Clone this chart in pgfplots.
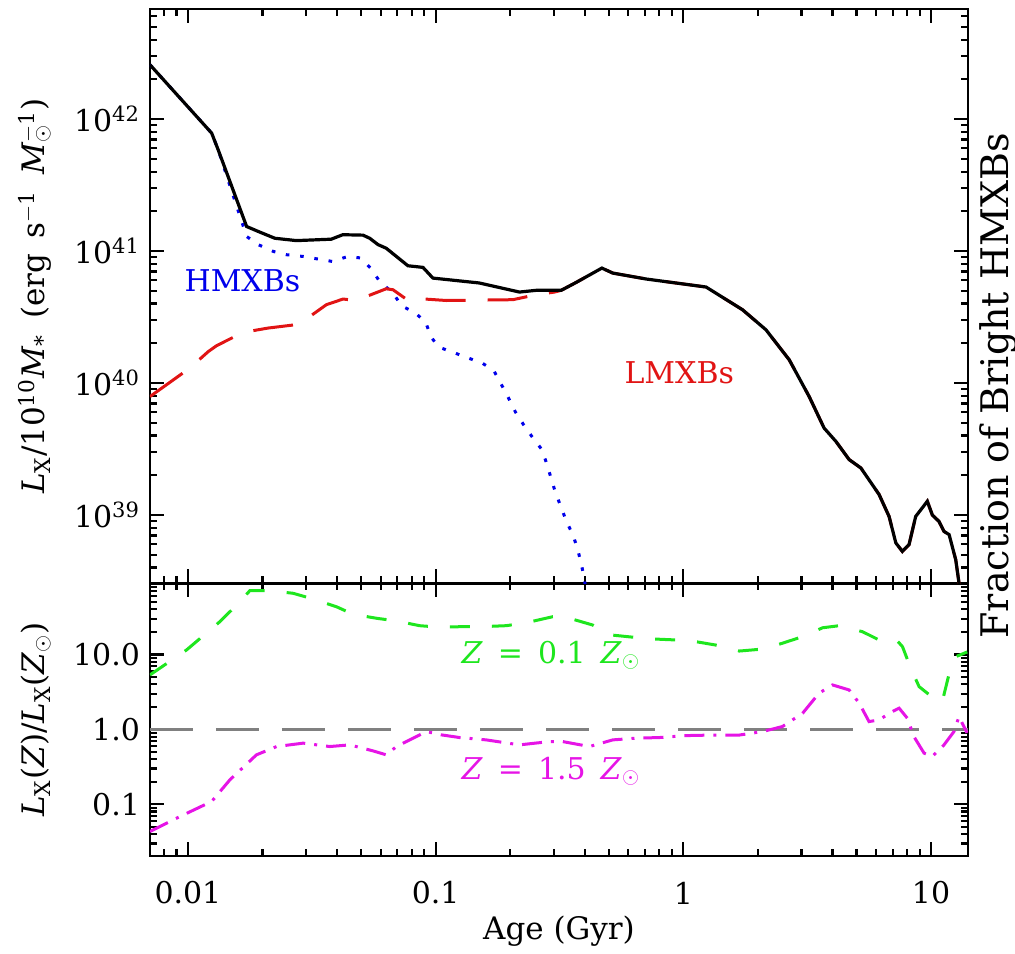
\documentclass[border=0pt]{standalone}
\usepackage{fontspec}
\setmainfont{DejaVu Serif}
\usepackage{pgfplots}
\pgfplotsset{compat=1.18}
\definecolor{cblue}{RGB}{0,0,235}
\definecolor{cred}{RGB}{225,20,20}
\definecolor{cgreen}{RGB}{30,230,30}
\definecolor{cmag}{RGB}{230,20,230}
\definecolor{cgray}{RGB}{128,128,128}
\newcommand{\tlfont}{\fontsize{15}{18}\selectfont}
\newcommand{\lbfont}{\fontsize{15.5}{18}\selectfont}
\newcommand{\anfont}{\fontsize{15}{18}\selectfont}
\newcommand{\rlfont}{\fontsize{19}{22}\selectfont}
\begin{document}
\begin{tikzpicture}
\useasboundingbox (-75pt,-48.65pt) rectangle (432.5pt,427.85pt);
% bottom panel
\begin{axis}[scale only axis, width=409pt, height=136.2pt,
  xmode=log, ymode=log, clip mode=individual,
  xmin=0.00703, xmax=14.1, ymin=0.0206, ymax=89,
  axis line style={line width=1.2pt},
  major tick length=7pt, minor tick length=3.5pt,
  every tick/.style={line width=1.1pt, black},
  xtick={0.01,0.1,1,10},
  minor xtick={0.008,0.009,0.02,0.03,0.04,0.05,0.06,0.07,0.08,0.09,0.2,0.3,0.4,0.5,0.6,0.7,0.8,0.9,2,3,4,5,6,7,8,9},
  xticklabels={0.01,0.1,1,10},
  ytick={0.1,1,10}, yticklabels={0.1,1.0,10.0},
  minor ytick={0.03,0.04,0.05,0.06,0.07,0.08,0.09,0.2,0.3,0.4,0.5,0.6,0.7,0.8,0.9,2,3,4,5,6,7,8,9,20,30,40,50,60,70,80},
  xticklabel style={font=\tlfont, anchor=center, yshift=-18.65pt},
  yticklabel style={font=\tlfont, xshift=-1.5pt},
  xlabel={Age (Gyr)},
  xlabel style={font=\lbfont, at={(rel axis cs:0.5,0)}, anchor=base, yshift=-42pt},
  ylabel={\textit{L}\textsubscript{X}(\textit{Z})/\textit{L}\textsubscript{X}(\textit{Z}\textsubscript{$\odot$})},
  ylabel style={font=\lbfont, at={(rel axis cs:-0.129,0.5)}, anchor=base},
]
\addplot[cgray, line width=1.4pt, dash pattern=on 21.5pt off 11.5pt] coordinates {(0.00703,1) (14.1,1)};
\addplot[cgreen, line width=1.5pt, dash pattern=on 10pt off 11pt] coordinates {
(0.00703,5.33)(0.00988,11.5)(0.01346,27.4)(0.01548,43.3)(0.01779,71.0)(0.02143,71.0)
(0.0266,65.5)(0.0320,55.0)(0.0398,43.3)(0.0464,34.4)(0.0577,30.4)(0.0695,28.0)
(0.0861,24.2)(0.1037,23.1)(0.1288,23.5)(0.155,23.5)(0.1928,24.2)(0.2321,26.5)
(0.2972,31.9)(0.326,31.9)(0.347,30.4)(0.4305,24.7)(0.5105,18.2)(0.625,17.0)
(0.752,16.1)(0.935,15.6)(1.125,14.8)(1.396,13.1)(1.683,11.1)(2.09,11.8)(2.51,14.1)
(3.03,17.3)(3.65,22.7)(4.26,24.2)(5.29,20.1)(6.37,14.8)(6.99,14.1)(7.32,15.1)
(7.67,12.7)(8.28,6.55)(8.95,3.72)(10.45,2.47)(11.1,2.35)(11.8,5.33)(12.6,9.35)(14.0,10.8)};
\addplot[cmag, line width=1.5pt, dash pattern=on 10pt off 4.5pt on 1.5pt off 4.5pt] coordinates {
(0.00703,0.0434)(0.00929,0.0687)(0.01247,0.109)(0.01477,0.212)(0.01891,0.457)
(0.0228,0.590)(0.0292,0.655)(0.0374,0.590)(0.0450,0.621)(0.0558,0.517)(0.0632,0.457)
(0.0695,0.590)(0.0917,0.935)(0.1054,0.845)(0.125,0.778)(0.160,0.724)(0.218,0.621)
(0.288,0.687)(0.326,0.687)(0.418,0.590)(0.519,0.724)(0.644,0.763)(0.80,0.778)
(1.025,0.826)(1.313,0.84)(1.683,0.84)(2.09,0.935)(2.51,1.09)(3.03,1.64)(3.53,3.04)
(4.0,3.92)(4.67,3.36)(5.13,2.23)(5.62,1.27)(6.17,1.34)(6.98,1.73)(7.43,1.92)
(8.02,1.41)(8.53,0.80)(9.37,0.482)(10.12,0.434)(11.28,0.621)(12.38,0.935)(12.97,1.48)(13.97,0.898)};
\node[cgreen, font=\anfont] at (rel axis cs:0.490,0.737) {\textit{Z}\enspace=\enspace0.1\enspace\textit{Z}\textsubscript{$\odot$}};
\node[cmag, font=\anfont] at (rel axis cs:0.490,0.309) {\textit{Z}\enspace=\enspace1.5\enspace\textit{Z}\textsubscript{$\odot$}};
\end{axis}
% top panel
\begin{axis}[scale only axis, width=409pt, height=287pt, at={(0,136.2pt)},
  xmode=log, ymode=log, clip mode=individual,
  xmin=0.00703, xmax=14.1, ymin=3.04e38, ymax=6.8e42,
  axis line style={line width=1.2pt},
  major tick length=7pt, minor tick length=3.5pt,
  every tick/.style={line width=1.1pt, black},
  xtick={0.01,0.1,1,10},
  minor xtick={0.008,0.009,0.02,0.03,0.04,0.05,0.06,0.07,0.08,0.09,0.2,0.3,0.4,0.5,0.6,0.7,0.8,0.9,2,3,4,5,6,7,8,9},
  xticklabels={},
  ytick={1e39,1e40,1e41,1e42},
  yticklabels={10\textsuperscript{39},10\textsuperscript{40},10\textsuperscript{41},10\textsuperscript{42}},
  minor ytick={4e38,5e38,6e38,7e38,8e38,9e38,2e39,3e39,4e39,5e39,6e39,7e39,8e39,9e39,2e40,3e40,4e40,5e40,6e40,7e40,8e40,9e40,2e41,3e41,4e41,5e41,6e41,7e41,8e41,9e41,2e42,3e42,4e42,5e42,6e42},
  yticklabel style={font=\tlfont, xshift=-1.5pt},
  ylabel={\textit{L}\textsubscript{X}/10\textsuperscript{10}\textit{M}\textsubscript{*}\enspace(erg\enspace s\textsuperscript{$-$1}\enspace\textit{M}\rlap{\textsubscript{$\odot$}}\textsuperscript{$-$1})},
  ylabel style={font=\lbfont, at={(rel axis cs:-0.129,0.5)}, anchor=base},
]
\addplot[cblue, line width=1.5pt, line cap=butt, dash pattern=on 1.8pt off 5.4pt] coordinates {
(0.00703,2.58e42)(0.01247,7.83e41)(0.01325,5.85e41)(0.01726,1.29e41)(0.0192,1.12e41)
(0.0221,9.94e40)(0.0250,9.38e40)(0.0292,9.1e40)(0.0335,8.7e40)(0.0383,8.34e40)
(0.0442,9.1e40)(0.0501,8.85e40)(0.0550,7.31e40)(0.0594,5.89e40)(0.0673,4.81e40)
(0.0728,3.85e40)(0.0822,3.43e40)(0.0912,2.90e40)(0.0955,2.25e40)(0.1031,1.87e40)
(0.1175,1.71e40)(0.1350,1.55e40)(0.1537,1.42e40)(0.1714,1.25e40)(0.184,9.8e39)
(0.197,7.7e39)(0.210,6.03e39)(0.2265,4.83e39)(0.2455,3.90e39)(0.2675,3.16e39)
(0.281,2.45e39)(0.293,1.88e39)(0.305,1.47e39)(0.3214,1.14e39)(0.3374,8.95e38)
(0.359,7.0e38)(0.375,5.45e38)(0.388,4.2e38)(0.399,3.24e38)(0.406,2.5e38)};
\addplot[cred, line width=1.5pt, dash pattern=on 20pt off 11pt] coordinates {
(0.00703,7.9e39)(0.01019,1.30e40)(0.01208,1.73e40)(0.01306,1.92e40)(0.0167,2.42e40)
(0.0211,2.61e40)(0.0274,2.77e40)(0.0301,3.06e40)(0.0362,3.92e40)(0.0423,4.33e40)
(0.0479,4.22e40)(0.0526,4.53e40)(0.0632,5.18e40)(0.0673,5.09e40)(0.0785,4.15e40)
(0.0903,4.33e40)(0.1105,4.22e40)(0.205,4.28e40)(0.2547,4.67e40)(0.302,4.89e40)
(0.3214,5.04e40)(0.369,5.78e40)(0.469,7.43e40)(0.519,6.81e40)(0.708,6.14e40)
(1.235,5.34e40)(1.734,3.59e40)(2.156,2.53e40)(2.676,1.50e40)(3.22,7.91e39)
(3.70,4.56e39)(4.13,3.61e39)(4.67,2.63e39)(5.21,2.27e39)(6.17,1.43e39)(6.77,9.75e38)
(7.21,6.14e38)(7.66,5.30e38)(8.15,5.96e38)(8.67,9.75e38)(9.66,1.27e39)(10.12,1.0e39)
(10.77,8.93e38)(11.28,7.51e38)(11.83,7.1e38)(12.58,4.58e38)(12.97,3.05e38)(13.2,2.3e38)};
\addplot[black, line width=1.6pt] coordinates {
(0.00703,2.58e42)(0.01247,7.83e41)(0.01325,5.85e41)(0.01726,1.535e41)(0.01919,1.41e41)
(0.02244,1.25e41)(0.02742,1.20e41)(0.0379,1.23e41)(0.0422,1.33e41)(0.0509,1.32e41)
(0.0542,1.25e41)(0.0585,1.12e41)(0.0632,1.05e41)(0.0773,7.74e40)(0.0889,7.52e40)
(0.0975,6.24e40)(0.150,5.73e40)(0.218,4.89e40)(0.2547,5.04e40)(0.3214,5.04e40)
(0.369,5.78e40)(0.469,7.43e40)(0.519,6.81e40)(0.708,6.14e40)(1.235,5.34e40)
(1.734,3.59e40)(2.156,2.53e40)(2.676,1.50e40)(3.22,7.91e39)(3.70,4.56e39)
(4.13,3.61e39)(4.67,2.63e39)(5.21,2.27e39)(6.17,1.43e39)(6.77,9.75e38)(7.21,6.14e38)
(7.66,5.30e38)(8.15,5.96e38)(8.67,9.75e38)(9.66,1.27e39)(10.12,1.0e39)(10.77,8.93e38)
(11.28,7.51e38)(11.83,7.1e38)(12.58,4.58e38)(12.97,3.05e38)(13.2,2.3e38)};
\node[cblue, font=\anfont] at (rel axis cs:0.113,0.527) {HMXBs};
\node[cred, font=\anfont] at (rel axis cs:0.647,0.366) {LMXBs};
\node[rotate=90, anchor=base, font=\rlfont] at (rel axis cs:1.0489,0.344) {Fraction of Bright HMXBs};
\end{axis}
\end{tikzpicture}
\end{document}
